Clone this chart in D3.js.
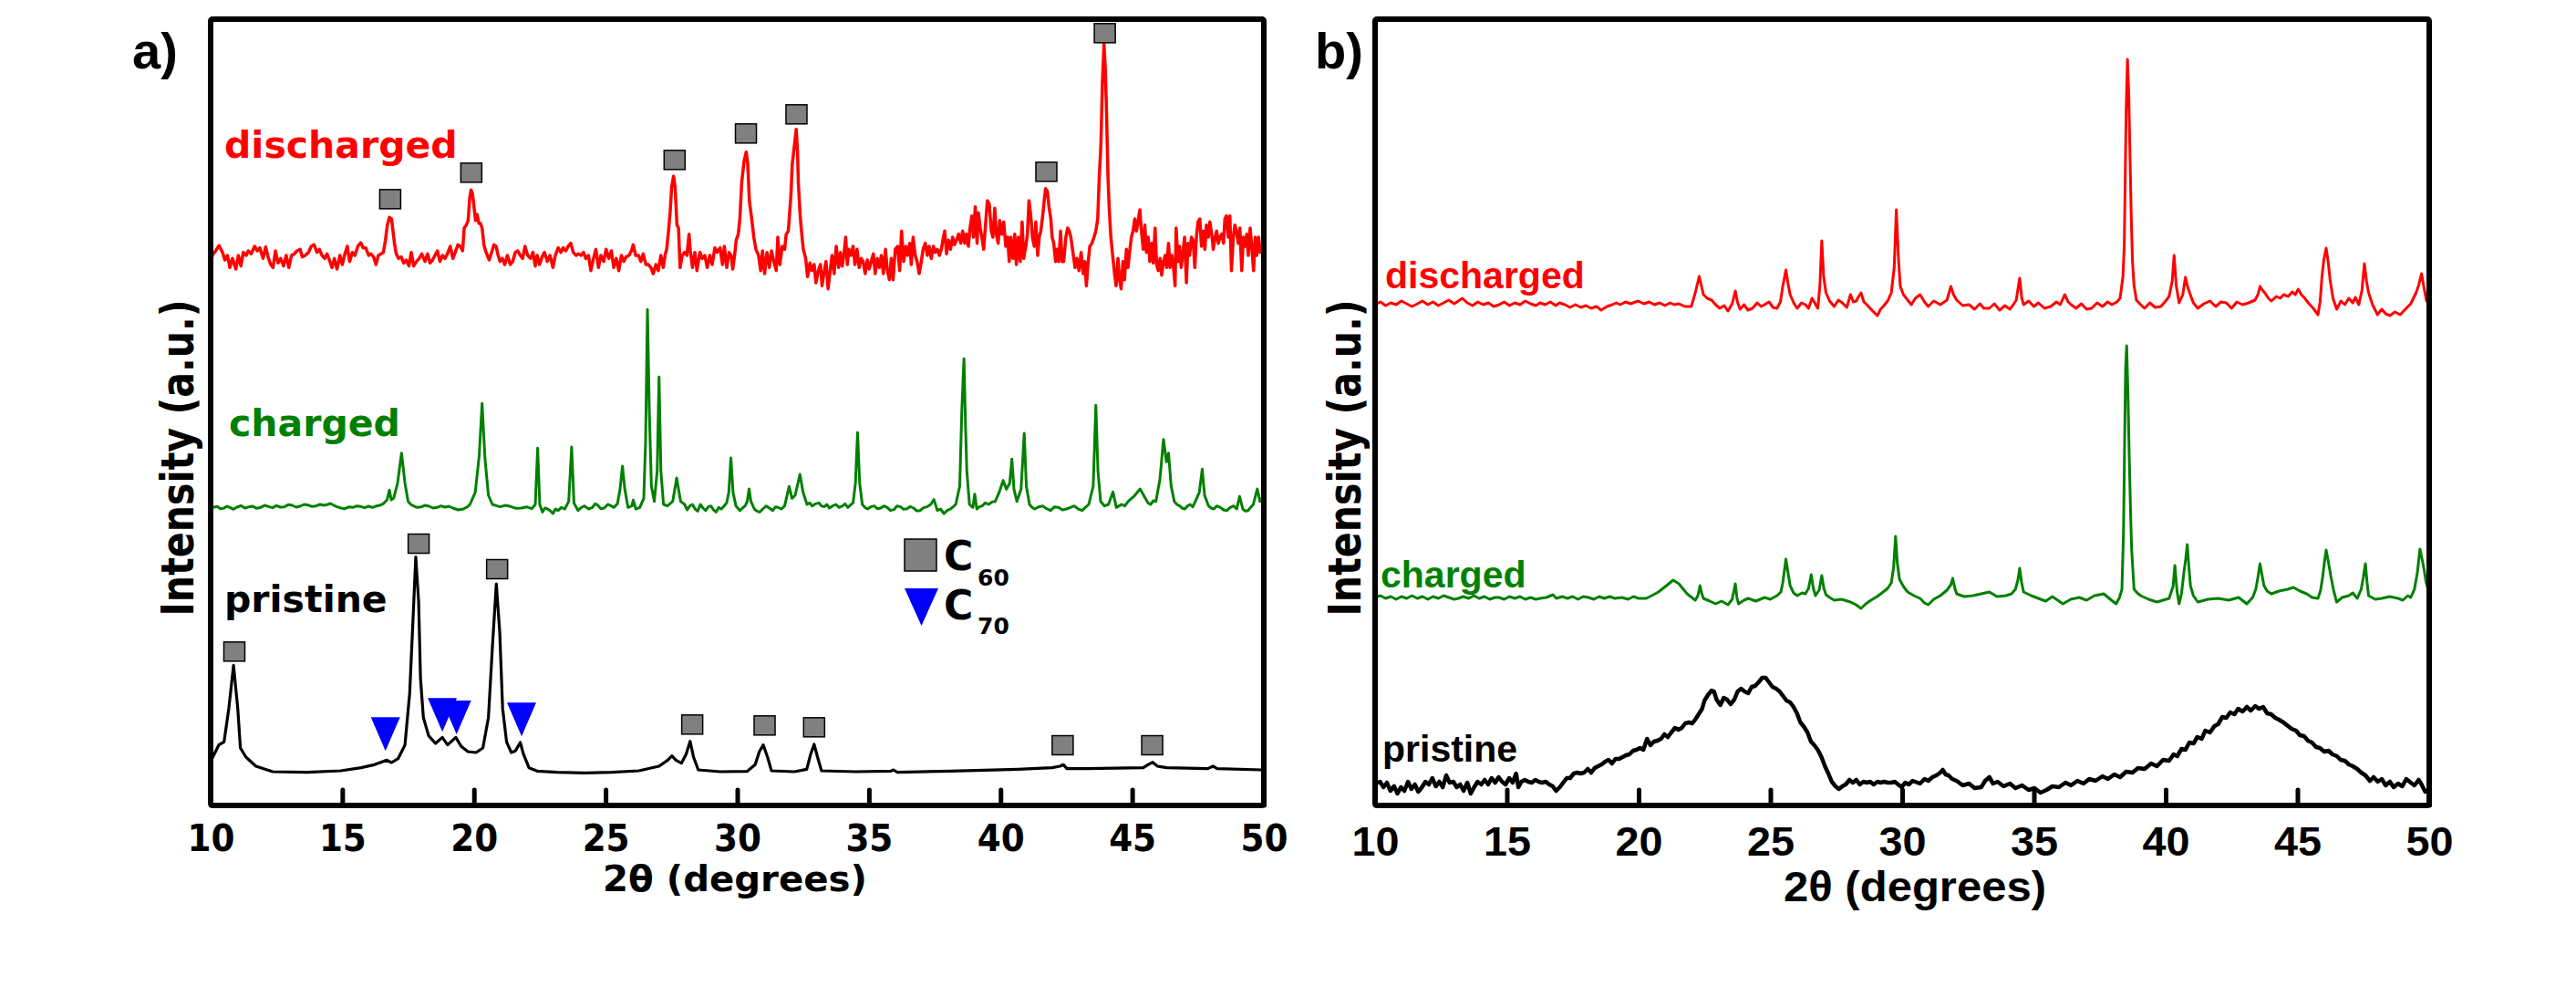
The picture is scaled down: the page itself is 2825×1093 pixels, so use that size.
<!DOCTYPE html>
<html><head><meta charset="utf-8">
<script src="https://cdn.jsdelivr.net/npm/d3@7"></script>
<style>body{margin:0;background:#fff}svg{display:block}</style>
</head><body>
<svg id="chart" width="2825" height="1093"></svg>
<script>
// ---------- DATA (2θ in degrees, intensity in arbitrary units) ----------
const xTickValues = [10, 15, 20, 25, 30, 35, 40, 45, 50];
const xTitle = "2θ (degrees)";
const yTitle = "Intensity (a.u.)";
const seriesNames = ["discharged", "charged", "pristine"];
const seriesColors = ["#ff0000", "#008000", "#000000"];

// Panel a) stacked patterns
const aDischarged = [[10.00,1769],[10.06,1809],[10.19,1824],[10.32,1841],[10.45,1819],[10.54,1794],[10.64,1809],[10.73,1769],[10.83,1799],[10.96,1764],[11.05,1809],[11.15,1774],[11.24,1819],[11.35,1809],[11.43,1824],[11.54,1814],[11.67,1839],[11.77,1824],[11.87,1834],[11.99,1799],[12.09,1837],[12.18,1804],[12.28,1779],[12.37,1769],[12.46,1824],[12.56,1784],[12.66,1799],[12.77,1774],[12.87,1809],[12.97,1769],[13.07,1809],[13.18,1814],[13.28,1824],[13.40,1829],[13.48,1804],[13.59,1809],[13.72,1819],[13.82,1839],[13.93,1844],[14.04,1819],[14.13,1829],[14.23,1809],[14.33,1799],[14.42,1814],[14.51,1794],[14.61,1769],[14.70,1799],[14.80,1764],[14.91,1809],[15.00,1779],[15.10,1814],[15.19,1839],[15.28,1789],[15.38,1819],[15.48,1809],[15.59,1839],[15.70,1851],[15.79,1834],[15.89,1834],[16.00,1809],[16.09,1814],[16.19,1804],[16.28,1779],[16.37,1809],[16.47,1814],[16.56,1819],[16.64,1859],[16.71,1909],[16.79,1934],[16.87,1929],[16.92,1894],[16.98,1849],[17.05,1814],[17.14,1799],[17.24,1804],[17.33,1784],[17.43,1794],[17.53,1774],[17.62,1819],[17.71,1774],[17.82,1789],[17.92,1799],[18.02,1814],[18.14,1789],[18.24,1814],[18.33,1784],[18.43,1794],[18.52,1809],[18.61,1824],[18.71,1789],[18.81,1809],[18.90,1799],[18.99,1814],[19.10,1839],[19.20,1799],[19.29,1819],[19.39,1844],[19.48,1839],[19.57,1824],[19.63,1899],[19.71,1909],[19.78,1924],[19.84,1999],[19.89,2024],[19.94,2014],[19.99,1979],[20.06,1924],[20.12,1944],[20.19,1914],[20.25,1914],[20.31,1899],[20.38,1844],[20.44,1824],[20.51,1809],[20.58,1794],[20.67,1819],[20.76,1844],[20.84,1839],[20.92,1809],[20.99,1789],[21.08,1799],[21.17,1779],[21.27,1809],[21.38,1779],[21.47,1789],[21.57,1819],[21.66,1824],[21.76,1809],[21.85,1799],[21.94,1839],[22.04,1809],[22.15,1799],[22.24,1819],[22.33,1774],[22.40,1809],[22.49,1779],[22.59,1804],[22.68,1819],[22.79,1789],[22.89,1809],[23.00,1769],[23.09,1809],[23.20,1834],[23.30,1819],[23.39,1834],[23.49,1824],[23.58,1839],[23.68,1849],[23.77,1819],[23.88,1809],[23.97,1814],[24.07,1809],[24.16,1819],[24.25,1799],[24.35,1809],[24.44,1759],[24.54,1799],[24.63,1829],[24.73,1769],[24.82,1809],[24.93,1789],[25.02,1829],[25.12,1799],[25.22,1824],[25.31,1769],[25.41,1799],[25.50,1759],[25.60,1809],[25.69,1789],[25.78,1804],[25.89,1809],[25.98,1824],[26.05,1844],[26.14,1809],[26.25,1809],[26.34,1789],[26.43,1814],[26.53,1779],[26.62,1779],[26.72,1769],[26.81,1749],[26.91,1779],[27.00,1759],[27.10,1809],[27.19,1769],[27.27,1814],[27.32,1829],[27.39,1889],[27.45,1949],[27.51,2034],[27.58,2069],[27.64,2034],[27.71,1909],[27.77,1899],[27.83,1769],[27.91,1809],[28.00,1819],[28.09,1809],[28.17,1879],[28.22,1824],[28.30,1769],[28.39,1819],[28.47,1759],[28.58,1819],[28.67,1799],[28.77,1809],[28.86,1769],[28.96,1809],[29.05,1779],[29.15,1834],[29.24,1819],[29.35,1834],[29.44,1779],[29.51,1839],[29.60,1769],[29.69,1819],[29.77,1809],[29.83,1764],[29.90,1809],[29.96,1859],[30.04,1879],[30.10,1929],[30.17,2049],[30.26,2119],[30.34,2149],[30.40,2109],[30.46,1989],[30.55,1929],[30.63,1869],[30.71,1829],[30.81,1809],[30.89,1759],[30.96,1824],[31.04,1749],[31.13,1819],[31.22,1769],[31.30,1824],[31.39,1789],[31.48,1759],[31.54,1869],[31.62,1779],[31.71,1839],[31.80,1829],[31.86,1879],[31.94,1889],[31.99,1949],[32.04,2009],[32.09,2109],[32.17,2170],[32.24,2224],[32.29,2150],[32.32,2049],[32.39,1939],[32.45,1879],[32.51,1829],[32.60,1799],[32.67,1739],[32.76,1784],[32.83,1759],[32.92,1779],[32.99,1719],[33.08,1759],[33.16,1779],[33.22,1709],[33.30,1754],[33.37,1789],[33.45,1699],[33.53,1759],[33.60,1809],[33.68,1749],[33.76,1839],[33.85,1769],[33.92,1819],[33.99,1774],[34.06,1819],[34.12,1869],[34.18,1779],[34.24,1829],[34.32,1809],[34.40,1839],[34.47,1779],[34.55,1829],[34.63,1769],[34.71,1799],[34.78,1789],[34.86,1749],[34.94,1794],[35.01,1764],[35.09,1789],[35.17,1814],[35.24,1749],[35.32,1799],[35.40,1769],[35.47,1809],[35.55,1749],[35.63,1829],[35.70,1759],[35.78,1729],[35.85,1799],[35.92,1729],[36.00,1829],[36.09,1839],[36.17,1759],[36.24,1889],[36.32,1789],[36.40,1839],[36.47,1809],[36.55,1849],[36.61,1779],[36.68,1869],[36.76,1809],[36.83,1789],[36.91,1749],[36.99,1789],[37.06,1829],[37.14,1849],[37.22,1809],[37.29,1839],[37.37,1799],[37.45,1839],[37.52,1819],[37.60,1829],[37.68,1809],[37.75,1829],[37.83,1869],[37.88,1889],[37.95,1814],[38.02,1859],[38.10,1829],[38.18,1869],[38.25,1844],[38.33,1859],[38.41,1879],[38.49,1849],[38.56,1889],[38.64,1849],[38.70,1879],[38.78,1839],[38.84,1899],[38.91,1939],[38.97,1869],[39.04,1969],[39.11,1849],[39.16,1949],[39.23,1899],[39.29,1869],[39.36,1829],[39.42,1899],[39.50,1989],[39.57,1979],[39.65,1889],[39.71,1869],[39.78,1964],[39.84,1879],[39.91,1849],[39.97,1924],[40.05,1879],[40.12,1919],[40.20,1839],[40.27,1869],[40.33,1789],[40.39,1869],[40.47,1799],[40.54,1879],[40.60,1779],[40.68,1869],[40.75,1789],[40.82,1919],[40.88,1799],[40.96,1839],[41.02,1879],[41.08,1989],[41.15,1939],[41.21,1869],[41.28,1839],[41.34,1919],[41.41,1809],[41.47,1869],[41.53,1889],[41.60,1939],[41.66,1989],[41.71,2029],[41.78,2019],[41.84,1969],[41.91,1929],[41.96,1869],[42.02,1849],[42.09,1789],[42.15,1829],[42.21,1789],[42.28,1889],[42.34,1789],[42.40,1789],[42.48,1869],[42.55,1899],[42.61,1889],[42.67,1869],[42.75,1819],[42.83,1769],[42.90,1799],[42.98,1759],[43.06,1819],[43.14,1749],[43.20,1789],[43.26,1709],[43.33,1789],[43.39,1839],[43.47,1849],[43.55,1869],[43.62,1889],[43.69,1929],[43.75,2069],[43.81,2169],[43.87,2380],[43.93,2504],[43.98,2420],[44.02,2300],[44.08,2069],[44.13,1959],[44.19,1869],[44.26,1809],[44.33,1749],[44.39,1709],[44.46,1799],[44.52,1729],[44.58,1699],[44.65,1789],[44.71,1729],[44.78,1829],[44.84,1769],[44.90,1819],[44.97,1869],[45.03,1889],[45.10,1929],[45.16,1889],[45.22,1919],[45.29,1959],[45.35,1889],[45.42,1829],[45.48,1909],[45.54,1819],[45.61,1869],[45.67,1789],[45.74,1849],[45.80,1784],[45.87,1899],[45.93,1779],[45.99,1759],[46.06,1799],[46.12,1744],[46.19,1789],[46.25,1809],[46.31,1769],[46.38,1849],[46.44,1769],[46.51,1809],[46.57,1769],[46.63,1709],[46.67,1899],[46.74,1789],[46.80,1839],[46.86,1769],[46.93,1819],[46.99,1869],[47.06,1719],[47.12,1849],[47.18,1809],[47.25,1869],[47.31,1859],[47.38,1769],[47.44,1869],[47.50,1919],[47.57,1929],[47.63,1839],[47.70,1889],[47.76,1829],[47.82,1909],[47.89,1869],[47.95,1919],[48.02,1879],[48.08,1829],[48.15,1869],[48.21,1889],[48.27,1849],[48.34,1869],[48.40,1879],[48.47,1849],[48.52,1929],[48.58,1939],[48.65,1869],[48.71,1939],[48.77,1759],[48.84,1869],[48.90,1909],[48.96,1889],[49.03,1849],[49.09,1899],[49.16,1759],[49.22,1869],[49.29,1839],[49.35,1879],[49.41,1809],[49.48,1899],[49.54,1839],[49.61,1759],[49.67,1869],[49.73,1809],[49.80,1869],[49.86,1819],[49.93,1839],[50.00,1829]];

const aCharged = [[10.00,975],[10.12,981],[10.25,983],[10.37,976],[10.5,977],[10.62,984],[10.75,979],[10.87,974],[11.0,981],[11.15,986],[11.3,978],[11.45,982],[11.6,984],[11.75,977],[11.9,980],[12.05,987],[12.2,983],[12.35,979],[12.5,986],[12.65,981],[12.8,982],[12.95,989],[13.1,987],[13.25,981],[13.4,984],[13.55,990],[13.7,988],[13.85,983],[14.0,985],[14.15,990],[14.3,987],[14.45,990],[14.55,993],[14.68,987],[14.8,982],[14.95,978],[15.1,976],[15.25,982],[15.4,980],[15.55,985],[15.7,983],[15.85,979],[16.0,984],[16.15,980],[16.3,985],[16.45,988],[16.55,992],[16.7,1005],[16.79,1037],[16.86,1005],[16.95,1010],[17.1,1060],[17.25,1159],[17.38,1060],[17.5,1000],[17.6,990],[17.7,985],[17.85,980],[18.0,982],[18.15,987],[18.3,984],[18.45,978],[18.6,980],[18.75,985],[18.9,981],[19.05,984],[19.2,978],[19.4,972],[19.6,975],[19.75,982],[19.85,990],[20.05,1030],[20.2,1150],[20.31,1322],[20.42,1140],[20.55,1020],[20.7,990],[20.85,986],[21.0,982],[21.2,987],[21.4,983],[21.6,977],[21.8,978],[22.0,982],[22.2,976],[22.33,990],[22.42,1175],[22.5,990],[22.6,965],[22.7,978],[22.8,975],[22.9,969],[23.0,960],[23.1,975],[23.2,970],[23.32,980],[23.45,975],[23.6,1000],[23.71,1179],[23.8,995],[23.95,970],[24.08,980],[24.2,985],[24.35,975],[24.5,980],[24.6,992],[24.7,988],[24.82,976],[24.95,978],[25.08,990],[25.2,986],[25.32,980],[25.45,992],[25.55,1040],[25.64,1116],[25.73,1040],[25.85,980],[26.0,985],[26.05,1004],[26.15,975],[26.3,980],[26.45,1010],[26.52,1200],[26.59,1631],[26.66,1300],[26.74,1050],[26.85,1000],[26.96,1100],[27.03,1409],[27.1,1100],[27.2,990],[27.35,985],[27.55,1000],[27.7,1077],[27.85,1000],[28.0,990],[28.1,972],[28.2,985],[28.3,990],[28.4,975],[28.5,968],[28.6,990],[28.7,978],[28.8,970],[28.9,982],[29.0,985],[29.1,972],[29.2,965],[29.3,980],[29.4,975],[29.5,985],[29.6,995],[29.68,1030],[29.76,1143],[29.84,1030],[29.95,985],[30.1,970],[30.2,978],[30.3,985],[30.38,1000],[30.45,1041],[30.52,1000],[30.65,975],[30.75,968],[30.85,965],[30.97,975],[31.1,985],[31.22,978],[31.35,970],[31.45,982],[31.55,980],[31.68,975],[31.8,985],[31.97,1049],[32.08,1010],[32.2,1020],[32.38,1089],[32.5,1030],[32.65,990],[32.75,995],[32.85,985],[32.97,992],[33.1,995],[33.2,985],[33.3,982],[33.4,990],[33.5,978],[33.62,985],[33.75,990],[33.87,980],[34.0,985],[34.1,992],[34.2,980],[34.3,988],[34.4,995],[34.49,1060],[34.57,1226],[34.65,1060],[34.75,990],[34.85,980],[34.95,975],[35.07,982],[35.2,985],[35.32,976],[35.45,978],[35.57,985],[35.7,980],[35.82,970],[35.95,973],[36.07,985],[36.2,982],[36.32,974],[36.45,976],[36.57,983],[36.7,978],[36.82,969],[36.95,970],[37.07,979],[37.2,982],[37.35,990],[37.47,1006],[37.6,970],[37.72,975],[37.85,960],[37.97,970],[38.1,975],[38.2,982],[38.3,990],[38.45,1050],[38.53,1300],[38.61,1469],[38.67,1250],[38.72,1100],[38.82,990],[38.95,980],[39.02,1024],[39.1,975],[39.2,982],[39.3,985],[39.42,995],[39.55,990],[39.67,998],[39.8,1000],[39.95,1030],[40.1,1069],[40.22,1040],[40.35,1060],[40.43,1139],[40.51,1040],[40.62,1000],[40.78,1040],[40.9,1224],[40.98,1050],[41.1,990],[41.2,980],[41.3,975],[41.45,982],[41.6,985],[41.75,976],[41.9,970],[42.05,982],[42.2,980],[42.35,972],[42.5,975],[42.65,980],[42.8,985],[42.95,975],[43.1,970],[43.22,980],[43.35,990],[43.52,1050],[43.62,1316],[43.7,1100],[43.8,1000],[43.95,985],[44.1,990],[44.27,1031],[44.4,980],[44.5,985],[44.6,990],[44.72,985],[44.85,1000],[44.95,1008],[45.05,1015],[45.3,1041],[45.5,1010],[45.6,995],[45.7,990],[45.8,1002],[45.9,1000],[46.05,1070],[46.19,1204],[46.3,1130],[46.38,1159],[46.48,1050],[46.6,1000],[46.7,990],[46.8,985],[46.9,978],[47.0,975],[47.1,985],[47.2,990],[47.3,982],[47.4,1000],[47.55,1030],[47.66,1106],[47.75,1020],[47.9,985],[48.0,978],[48.1,975],[48.22,985],[48.35,980],[48.47,972],[48.6,970],[48.72,980],[48.85,985],[48.97,975],[49.08,1016],[49.2,975],[49.3,968],[49.4,970],[49.5,980],[49.6,990],[49.75,1041],[49.85,1000],[50.0,1020]];

const aPristine = [[10.00,145],[10.31,199],[10.51,209],[10.69,319],[10.87,461],[11.03,319],[11.13,189],[11.34,159],[11.72,129],[12.36,111],[13.65,109],[14.94,114],[15.71,124],[16.22,134],[16.53,144],[16.69,149],[16.87,141],[17.12,154],[17.38,199],[17.56,369],[17.69,619],[17.79,817],[17.90,669],[17.97,419],[18.08,289],[18.28,229],[18.54,204],[18.80,224],[19.00,199],[19.31,224],[19.52,194],[19.77,177],[20.08,174],[20.34,189],[20.55,289],[20.70,519],[20.85,729],[20.98,569],[21.09,319],[21.24,209],[21.42,174],[21.57,179],[21.76,207],[21.88,169],[22.09,124],[22.40,113],[23.17,109],[24.20,107],[25.23,109],[26.26,114],[27.03,129],[27.36,149],[27.52,163],[27.67,149],[27.88,139],[28.06,169],[28.21,211],[28.34,159],[28.52,117],[29.35,111],[30.37,112],[30.68,134],[30.84,177],[30.99,199],[31.15,159],[31.30,114],[32.17,111],[32.64,119],[32.79,169],[32.92,201],[33.05,159],[33.20,114],[34.49,111],[35.83,113],[35.93,117],[36.08,109],[38.09,113],[40.66,119],[41.95,124],[42.26,129],[42.39,134],[42.52,121],[43.24,121],[45.42,124],[45.60,134],[45.78,142],[45.96,129],[46.32,124],[47.87,121],[48.07,129],[48.23,121],[49.93,117],[50.00,117]];

// C60 reflections marked (2θ, marker height) and C70 reflections (2θ, marker tip height)
const aDischargedC60 = [[16.82,1994],[19.90,2081],[27.62,2123],[30.33,2210],[32.25,2273],[41.74,2084],[43.96,2540]];
const aPristineC60 = [[10.90,506],[17.90,861],[20.88,777],[28.29,266],[31.04,263],[32.92,257],[42.36,198],[45.76,198]];
const aPristineC70 = [[16.64,179],[18.80,242],[19.34,234],[21.81,227]];
const legendLabels = [["C","60"],["C","70"]];

// Panel b) stacked patterns
const bDischarged = [[10.00,549],[10.2,552],[10.4,548],[10.6,551],[10.8,549],[11.0,553],[11.2,550],[11.4,547],[11.61,550],[11.8,553],[12.0,549],[12.2,552],[12.4,548],[12.6,551],[12.8,554],[13.0,550],[13.16,553],[13.31,556],[13.5,551],[13.7,548],[13.9,552],[14.1,549],[14.3,551],[14.5,547],[14.71,549],[14.9,552],[15.1,548],[15.3,551],[15.5,549],[15.7,553],[15.9,550],[16.1,548],[16.26,551],[16.45,549],[16.65,552],[16.85,548],[17.0,551],[17.2,549],[17.4,546],[17.6,549],[17.81,546],[18.0,548],[18.2,545],[18.4,547],[18.58,543],[18.8,547],[19.0,549],[19.15,551],[19.3,549],[19.5,552],[19.7,550],[19.98,553],[20.2,550],[20.4,552],[20.6,549],[20.8,551],[21.0,548],[21.2,551],[21.35,549],[21.53,550],[21.75,547],[22.00,547],[22.15,562],[22.30,580],[22.46,560],[22.6,556],[22.77,554],[22.92,549],[23.08,545],[23.25,548],[23.39,542],[23.55,550],[23.67,564],[23.75,552],[23.85,544],[24.0,549],[24.15,543],[24.32,545],[24.5,551],[24.65,547],[24.78,549],[24.95,552],[25.1,546],[25.25,545],[25.38,552],[25.47,569],[25.59,587],[25.67,572],[25.75,560],[25.9,550],[26.02,545],[26.18,551],[26.33,549],[26.45,545],[26.58,556],[26.7,550],[26.80,545],[26.88,570],[26.95,619],[27.02,580],[27.11,562],[27.25,553],[27.42,547],[27.58,554],[27.73,551],[27.9,546],[28.04,560],[28.15,552],[28.26,553],[28.35,558],[28.44,562],[28.55,552],[28.66,549],[28.85,543],[29.06,537],[29.18,544],[29.28,547],[29.45,553],[29.59,562],[29.7,590],[29.78,653],[29.86,600],[29.93,569],[30.05,560],[30.21,554],[30.35,549],[30.5,556],[30.68,560],[30.85,552],[30.99,547],[31.2,553],[31.45,549],[31.6,552],[31.70,554],[31.85,569],[31.95,560],[32.07,554],[32.3,548],[32.54,549],[32.75,544],[32.95,550],[33.1,545],[33.31,545],[33.5,550],[33.7,543],[33.9,548],[34.09,544],[34.22,549],[34.33,554],[34.46,578],[34.54,556],[34.61,549],[34.8,553],[35.0,547],[35.17,551],[35.4,545],[35.64,547],[35.85,552],[36.0,549],[36.17,560],[36.3,552],[36.41,549],[36.6,545],[36.8,550],[37.0,544],[37.19,545],[37.4,551],[37.6,547],[37.8,552],[37.96,549],[38.15,552],[38.27,556],[38.38,580],[38.43,615],[38.5,760],[38.55,818],[38.6,780],[38.64,722],[38.69,650],[38.74,597],[38.8,570],[38.89,554],[39.05,549],[39.20,545],[39.4,551],[39.6,546],[39.82,547],[40.0,553],[40.13,558],[40.25,575],[40.32,603],[40.4,570],[40.51,551],[40.65,560],[40.75,579],[40.82,570],[40.91,562],[41.05,551],[41.22,545],[41.45,550],[41.68,553],[41.9,547],[42.1,552],[42.30,551],[42.5,545],[42.7,552],[42.92,549],[43.15,551],[43.39,554],[43.5,560],[43.58,569],[43.67,565],[43.76,562],[43.9,556],[44.01,553],[44.2,558],[44.35,556],[44.48,560],[44.65,558],[44.8,563],[44.92,560],[45.03,566],[45.15,560],[45.28,556],[45.41,551],[45.6,545],[45.78,538],[45.86,552],[45.93,579],[46.0,598],[46.09,611],[46.17,595],[46.24,576],[46.35,556],[46.49,544],[46.65,553],[46.8,549],[46.95,556],[47.1,551],[47.2,557],[47.33,549],[47.45,565],[47.54,594],[47.62,575],[47.70,562],[47.85,549],[48.04,538],[48.2,544],[48.35,539],[48.51,537],[48.7,541],[48.9,538],[49.13,545],[49.3,550],[49.40,556],[49.50,562],[49.6,570],[49.71,583],[49.8,568],[49.90,553],[50.00,553]];

const bCharged = [[10.00,228],[10.2,230],[10.4,227],[10.6,229],[10.8,226],[11.0,229],[11.2,227],[11.4,230],[11.6,227],[11.8,229],[12.0,226],[12.2,229],[12.4,227],[12.6,230],[12.8,228],[13.0,226],[13.16,227],[13.35,229],[13.55,227],[13.75,230],[13.95,227],[14.15,229],[14.35,226],[14.55,228],[14.7,228],[14.9,226],[15.1,229],[15.3,227],[15.5,229],[15.7,226],[15.9,228],[16.1,226],[16.26,227],[16.5,228],[16.75,231],[16.88,227],[17.1,229],[17.3,227],[17.5,229],[17.7,226],[17.9,229],[18.1,228],[18.3,226],[18.5,229],[18.7,227],[18.9,229],[19.1,227],[19.36,228],[19.6,226],[19.8,229],[20.0,227],[20.29,227],[20.5,230],[20.75,234],[21.06,241],[21.31,247],[21.53,243],[21.84,232],[22.15,225],[22.25,230],[22.33,241],[22.4,232],[22.46,227],[22.7,224],[22.92,221],[23.15,224],[23.39,220],[23.55,226],[23.67,243],[23.73,228],[23.79,221],[24.0,225],[24.16,227],[24.45,224],[24.78,228],[25.0,226],[25.25,230],[25.4,234],[25.47,244],[25.59,270],[25.67,255],[25.75,241],[25.88,233],[26.02,230],[26.2,233],[26.33,232],[26.45,238],[26.55,253],[26.63,238],[26.71,230],[26.85,236],[26.95,252],[27.03,238],[27.11,231],[27.25,228],[27.42,225],[27.7,226],[28.04,223],[28.25,220],[28.44,216],[28.62,221],[28.82,225],[29.05,229],[29.28,234],[29.45,238],[29.59,244],[29.68,262],[29.75,295],[29.82,265],[29.90,248],[30.05,240],[30.21,234],[30.45,230],[30.68,227],[30.85,222],[30.99,220],[31.2,226],[31.45,230],[31.7,236],[31.85,242],[31.92,249],[32.0,238],[32.07,232],[32.35,229],[32.69,230],[33.0,232],[33.31,234],[33.6,229],[33.93,230],[34.15,232],[34.30,237],[34.4,248],[34.46,260],[34.53,245],[34.61,234],[34.9,230],[35.17,227],[35.45,224],[35.7,229],[36.10,221],[36.4,226],[36.72,228],[37.0,225],[37.3,230],[37.65,232],[37.9,226],[38.12,221],[38.25,228],[38.34,237],[38.4,300],[38.43,369],[38.48,480],[38.52,504],[38.57,450],[38.62,380],[38.67,320],[38.71,280],[38.80,237],[38.92,233],[39.05,230],[39.35,226],[39.67,223],[39.9,225],[40.13,227],[40.28,240],[40.35,263],[40.43,235],[40.51,221],[40.6,232],[40.69,255],[40.76,270],[40.82,286],[40.88,262],[40.94,241],[41.05,230],[41.22,223],[41.6,226],[41.99,227],[42.4,225],[42.77,228],[43.08,221],[43.3,228],[43.42,237],[43.5,250],[43.58,265],[43.66,252],[43.73,241],[43.85,235],[44.01,232],[44.3,235],[44.63,237],[44.85,239],[45.10,235],[45.35,232],[45.56,228],[45.78,227],[45.88,236],[45.96,251],[46.03,268],[46.09,280],[46.18,266],[46.27,251],[46.38,235],[46.49,223],[46.7,228],[46.95,230],[47.1,233],[47.27,227],[47.42,237],[47.5,250],[47.58,265],[47.64,245],[47.70,230],[47.95,226],[48.20,227],[48.5,229],[48.82,227],[49.0,225],[49.19,230],[49.3,228],[49.44,237],[49.55,255],[49.65,281],[49.73,270],[49.81,258],[49.88,245],[49.96,237],[50.0,234]];

const bPristine = [[10.00,24],[10.19,26],[10.32,20],[10.45,25],[10.58,16],[10.72,21],[10.85,13],[10.98,20],[11.11,16],[11.25,26],[11.38,18],[11.51,23],[11.64,15],[11.78,20],[11.91,26],[12.04,23],[12.17,30],[12.31,21],[12.44,26],[12.57,20],[12.70,33],[12.83,25],[12.97,26],[13.10,20],[13.23,23],[13.36,16],[13.50,25],[13.63,13],[13.76,20],[13.89,26],[14.03,23],[14.16,28],[14.29,23],[14.42,30],[14.56,25],[14.69,31],[14.82,26],[14.95,23],[15.09,30],[15.22,25],[15.35,35],[15.44,20],[15.55,26],[15.68,28],[15.81,26],[15.95,25],[16.08,28],[16.21,26],[16.34,25],[16.48,26],[16.61,23],[16.74,21],[16.87,16],[17.01,20],[17.14,25],[17.27,30],[17.40,30],[17.54,35],[17.67,36],[17.80,35],[17.93,36],[18.07,40],[18.20,36],[18.33,41],[18.46,43],[18.60,45],[18.73,48],[18.86,50],[18.99,46],[19.12,51],[19.26,51],[19.39,53],[19.52,55],[19.65,56],[19.79,60],[19.92,61],[20.05,63],[20.18,61],[20.32,73],[20.45,66],[20.58,70],[20.71,71],[20.85,73],[20.98,78],[21.11,75],[21.24,80],[21.38,85],[21.51,83],[21.64,85],[21.77,90],[21.91,91],[22.04,90],[22.17,95],[22.30,101],[22.41,106],[22.50,115],[22.63,121],[22.77,126],[22.86,125],[22.96,116],[23.10,110],[23.23,118],[23.36,116],[23.49,111],[23.63,116],[23.76,125],[23.89,128],[24.02,125],[24.16,123],[24.29,130],[24.42,131],[24.55,135],[24.69,140],[24.82,140],[24.95,135],[25.08,130],[25.22,128],[25.35,125],[25.48,120],[25.61,115],[25.75,113],[25.88,108],[26.01,101],[26.14,91],[26.28,86],[26.41,80],[26.54,70],[26.67,66],[26.80,61],[26.94,53],[27.07,43],[27.20,35],[27.33,26],[27.47,21],[27.60,18],[27.73,21],[27.86,23],[28.00,28],[28.13,25],[28.26,28],[28.39,23],[28.53,26],[28.66,25],[28.79,26],[28.92,23],[29.06,26],[29.19,25],[29.32,26],[29.45,25],[29.59,25],[29.72,26],[29.85,23],[29.98,20],[30.12,25],[30.25,23],[30.40,27],[30.68,24],[30.85,29],[30.99,27],[31.15,31],[31.30,33],[31.45,36],[31.54,39],[31.65,34],[31.76,33],[31.9,29],[32.07,27],[32.3,22],[32.54,24],[32.75,19],[33.00,20],[33.15,27],[33.31,31],[33.45,24],[33.62,26],[33.85,21],[34.09,24],[34.3,19],[34.55,22],[34.8,17],[35.02,19],[35.25,14],[35.48,17],[35.7,21],[35.95,20],[36.2,25],[36.41,22],[36.65,27],[36.88,24],[37.1,29],[37.34,27],[37.6,32],[37.81,29],[38.05,34],[38.27,31],[38.5,37],[38.74,36],[38.95,41],[39.20,40],[39.45,46],[39.67,43],[39.9,50],[40.13,49],[40.3,56],[40.44,54],[40.6,62],[40.75,61],[40.9,69],[41.06,68],[41.2,75],[41.37,73],[41.5,82],[41.68,80],[41.85,87],[41.99,89],[42.15,97],[42.30,96],[42.45,102],[42.61,100],[42.75,106],[42.92,103],[43.08,108],[43.23,104],[43.4,109],[43.54,106],[43.7,108],[43.85,101],[44.0,100],[44.16,96],[44.3,94],[44.47,91],[44.6,88],[44.78,84],[44.95,82],[45.09,77],[45.25,76],[45.40,71],[45.55,69],[45.71,64],[45.85,63],[46.02,59],[46.18,60],[46.33,56],[46.5,54],[46.64,50],[46.8,49],[46.95,45],[47.1,43],[47.27,40],[47.42,36],[47.58,33],[47.75,27],[47.89,31],[48.05,26],[48.20,29],[48.35,22],[48.51,26],[48.65,20],[48.82,24],[48.98,21],[49.13,29],[49.3,25],[49.44,22],[49.6,28],[49.69,24],[49.85,15],[50.0,17]];

// ---------- DRAWING ----------
const svg = d3.select("#chart");
const FB = "'DejaVu Sans', Verdana, sans-serif";
const FA = "'Liberation Sans', Arial, sans-serif";

const panels = [
  {key:"a", x:[231,1386], y:[883,21], yMax:2586,
   series:[aDischarged,aCharged,aPristine], lw:[3.5,3,3.2],
   labels:[[246,173],[251,478],[246,671]], labelFont:FB, labelSize:41, labelWeight:"bold",
   letter:[145,75], yTitleX:212, tickFont:FB, tickSize:41, tickLen:52, tickBase:933,
   xTitlePos:[806,977], xTitleFont:FB, xTitleSize:39, xTitleLen:290},
  {key:"b", x:[1508,2664], y:[883,21], yMax:862,
   series:[bDischarged,bCharged,bPristine], lw:[3,3,4.5],
   labels:[[1519,316],[1514,644],[1516,835]], labelFont:FA, labelSize:41, labelWeight:"bold",
   letter:[1442,75], yTitleX:1492, tickFont:FA, tickSize:44, tickLen:52, tickBase:938,
   xTitlePos:[2100,988], xTitleFont:FA, xTitleSize:47, xTitleLen:288}
];

panels.forEach(p => {
  const x = d3.scaleLinear().domain([10,50]).range(p.x);
  const y = d3.scaleLinear().domain([0,p.yMax]).range(p.y);
  const g = svg.append("g");
  const line = d3.line().x(d=>x(d[0])).y(d=>y(d[1]));

  p.series.forEach((s,i) => {
    g.append("path").datum(s).attr("d", line)
      .attr("fill","none").attr("stroke",seriesColors[i])
      .attr("stroke-width",p.lw[i]).attr("stroke-linejoin","round");
  });

  const axis = d3.axisBottom(x).tickValues(xTickValues).tickSizeInner(-17).tickSizeOuter(0).tickPadding(20);
  const ag = g.append("g").attr("transform",`translate(0,${p.y[0]})`).call(axis);
  ag.select(".domain").remove();
  ag.selectAll(".tick line").attr("stroke","#000").attr("stroke-width",5).attr("stroke-linecap","round");
  ag.selectAll(".tick text").attr("fill","#000").attr("dy",null)
    .attr("y", p.tickBase - p.y[0])
    .attr("font-family",p.tickFont).attr("font-weight","bold").attr("font-size",p.tickSize)
    .attr("textLength",p.tickLen).attr("lengthAdjust","spacingAndGlyphs");

  g.append("rect").attr("x",p.x[0]).attr("y",p.y[1]).attr("width",p.x[1]-p.x[0]).attr("height",p.y[0]-p.y[1])
    .attr("fill","none").attr("stroke","#000").attr("stroke-width",6).attr("rx",2);

  seriesNames.forEach((n,i) => {
    g.append("text").attr("x",p.labels[i][0]).attr("y",p.labels[i][1]).text(n)
      .attr("fill",seriesColors[i]).attr("font-family",p.labelFont)
      .attr("font-weight",p.labelWeight).attr("font-size",p.labelSize);
  });

  g.append("text").attr("x",p.letter[0]).attr("y",p.letter[1]).text(p.key+")")
    .attr("font-family",FA).attr("font-weight","bold").attr("font-size",56);

  g.append("text").attr("transform",`translate(${p.yTitleX},502) rotate(-90)`)
    .attr("text-anchor","middle").text(yTitle)
    .attr("font-family",FB).attr("font-weight","bold").attr("font-size",50)
    .attr("textLength",347).attr("lengthAdjust","spacingAndGlyphs");

  g.append("text").attr("x",p.xTitlePos[0]).attr("y",p.xTitlePos[1]).attr("text-anchor","middle").text(xTitle)
    .attr("font-family",p.xTitleFont).attr("font-weight","bold").attr("font-size",p.xTitleSize)
    .attr("textLength",p.xTitleLen).attr("lengthAdjust","spacingAndGlyphs");

  if (p.key === "a") {
    const sq = [...aDischargedC60, ...aPristineC60];
    g.selectAll("rect.c60").data(sq).join("rect").attr("class","c60")
      .attr("x",d=>x(d[0])-11.5).attr("y",d=>y(d[1])-10.5).attr("width",23).attr("height",21)
      .attr("fill","#808080").attr("stroke","#000").attr("stroke-width",1.5);
    g.selectAll("path.c70").data(aPristineC70).join("path").attr("class","c70")
      .attr("d",d=>{const cx=x(d[0]), ty=y(d[1]); return `M${cx-16},${ty-37}L${cx+16},${ty-37}L${cx},${ty}Z`;})
      .attr("fill","#0000ff");
    g.append("rect").attr("x",992).attr("y",591).attr("width",35).attr("height",35)
      .attr("fill","#808080").attr("stroke","#000").attr("stroke-width",1.5);
    g.append("path").attr("d","M992,645L1029,645L1010.5,686Z").attr("fill","#0000ff");
    legendLabels.forEach((l,i) => {
      g.append("text").attr("x",1035).attr("y",625+i*54).text(l[0])
        .attr("font-family",FB).attr("font-weight","bold").attr("font-size",44);
      g.append("text").attr("x",1072).attr("y",642+i*53).text(l[1])
        .attr("font-family",FB).attr("font-weight","bold").attr("font-size",25);
    });
  }
});
</script>
</body></html>
